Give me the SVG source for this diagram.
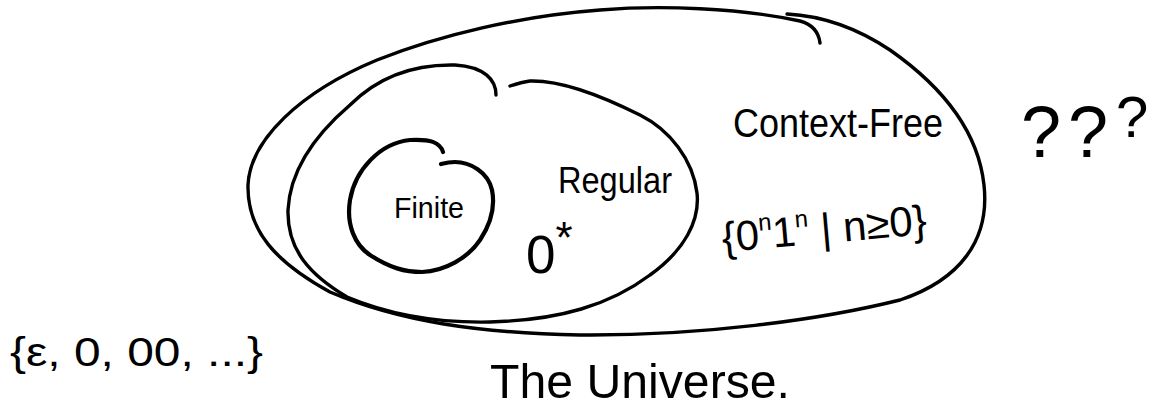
<svg xmlns="http://www.w3.org/2000/svg" width="1154" height="406" viewBox="0 0 1154 406">
<style>
.stroke{fill:none;stroke:#000;stroke-width:3.4;stroke-linecap:round;stroke-linejoin:round}
.thick{stroke-width:4.2}
text{font-family:"Liberation Sans",Arial,sans-serif;fill:#000}
</style>
<rect width="1154" height="406" fill="#fff"/>
<g id="context-free">
<path class="stroke" d="M 820 43 Q 818 26 800 21 C 740 8 660 5 600 10 C 520 16 440 35 377 60 C 300 92 250 140 248 185 C 247 230 275 262 330 292 C 400 322 480 333 580 335 C 700 336 820 320 900 300 C 960 280 990 240 984 185 C 978 130 940 85 890 50 C 860 30 825 16 787 14"/>
<text x="733" y="137" font-size="40" textLength="210" lengthAdjust="spacingAndGlyphs">Context-Free</text>
<text x="723" y="252" font-size="42" transform="rotate(-5 723 252)">{0<tspan font-size="24" dy="-18">n</tspan><tspan dy="18">1</tspan><tspan font-size="24" dy="-18">n</tspan><tspan dy="18"> | n≥0}</tspan></text>
</g>
<g id="regular">
<path class="stroke" d="M 496 95 C 496 80 485 67 455 65 C 410 64 375 80 350 105 C 315 135 290 170 288 210 C 287 250 310 275 347 297 C 390 315 440 323 490 322 C 560 320 610 305 650 275 C 685 250 700 220 697 193 C 693 160 670 130 640 115 C 600 95 560 80 530 81 C 522 82 516 84 510 86"/>
<text x="558" y="193" font-size="36" textLength="114" lengthAdjust="spacingAndGlyphs">Regular</text>
<text x="526" y="273" font-size="53">0<tspan font-size="44" dy="-20">*</tspan></text>
</g>
<g id="finite">
<path class="stroke thick" d="M 443 152 C 440 142 430 139 410 140 C 380 143 355 170 350 200 C 346 225 355 245 370 255 C 390 268 405 272 422 272 C 445 271 468 258 480 240 C 492 222 495 205 492 190 C 488 172 470 162 455 162 C 450 162 445 163 441 164"/>
<text x="394" y="218" font-size="30" textLength="70" lengthAdjust="spacingAndGlyphs">Finite</text>
</g>
<g id="unknown">
<text x="1021" y="157" font-size="72">?<tspan x="1068">?</tspan><tspan x="1116" y="137" font-size="58">?</tspan></text>
</g>
<g id="universe">
<text x="10" y="366" font-size="40" textLength="253" lengthAdjust="spacingAndGlyphs">{ε, 0, 00, ...}</text>
<text x="490" y="398" font-size="48" textLength="300" lengthAdjust="spacingAndGlyphs">The Universe.</text>
</g>
</svg>
